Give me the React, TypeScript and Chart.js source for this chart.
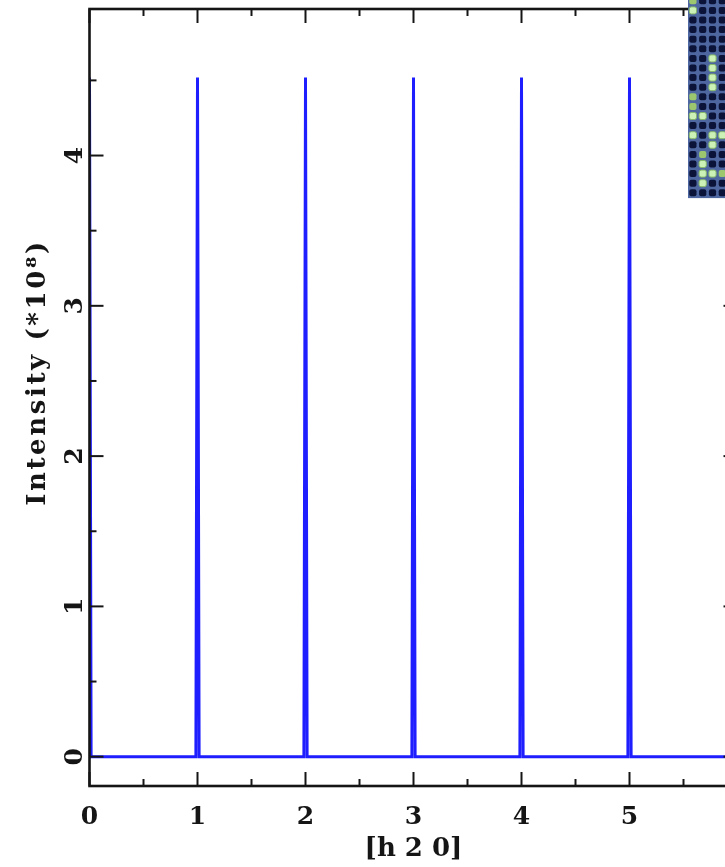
import React, { useEffect, useRef } from 'react';
import { Chart, registerables } from 'chart.js';

Chart.register(...registerables);

// Series: [h 2 0] scan, intensity in units of 1e8
const hValues = [0, 0.015, 0.985, 1, 1.015, 1.985, 2, 2.015, 2.985, 3, 3.015, 3.985, 4, 4.015, 4.985, 5, 5.015, 6];
const intensityValues = [4.52, 0, 0, 4.52, 0, 0, 4.52, 0, 0, 4.52, 0, 0, 4.52, 0, 0, 4.52, 0, 0];

// Axis ticks
const xMajorTicks = [0, 1, 2, 3, 4, 5, 6];
const xMinorTicks = [0.5, 1.5, 2.5, 3.5, 4.5, 5.5];
const yMajorTicks = [0, 1, 2, 3, 4];
const yMinorTicks = [0.5, 1.5, 2.5, 3.5, 4.5];

const xTitle = '[h 2 0]';
const yTitle = 'Intensity (*10\u2078)';

// Inset picture (pixel pattern): '.' dark, 'g' green, 'G' light green
const insetRows = [
  'g...',
  'G...',
  '....',
  '....',
  '....',
  '....',
  '..G.',
  '..G.',
  '..G.',
  '..G.',
  'g...',
  'g...',
  'GG..',
  '....',
  'G.GG',
  '..G.',
  '.g..',
  '.G..',
  '.GGg',
  '.G..',
  '....',
];

const FONT = 'DejaVu Serif';
const INK = '#151515';

const framePlugin = {
  id: 'frameTicks',
  afterDatasetsDraw(chart: any) {
    const { ctx, chartArea, scales } = chart;
    const { left, right, top, bottom } = chartArea;
    const xs = scales.x;
    const ys = scales.y;
    ctx.save();
    ctx.strokeStyle = INK;
    ctx.lineCap = 'butt';
    const seg = (x1: number, y1: number, x2: number, y2: number) => {
      ctx.beginPath();
      ctx.moveTo(x1, y1);
      ctx.lineTo(x2, y2);
      ctx.stroke();
    };
    ctx.lineWidth = 2;
    const major = 14;
    const minor = 7;
    xMajorTicks.forEach((v) => {
      const p = xs.getPixelForValue(v);
      seg(p, bottom, p, bottom - major);
      seg(p, top, p, top + major);
    });
    xMinorTicks.forEach((v) => {
      const p = xs.getPixelForValue(v);
      seg(p, bottom, p, bottom - minor);
      seg(p, top, p, top + minor);
    });
    yMajorTicks.forEach((v) => {
      const p = ys.getPixelForValue(v);
      seg(left, p, left + major, p);
      seg(right, p, right - major, p);
    });
    yMinorTicks.forEach((v) => {
      const p = ys.getPixelForValue(v);
      seg(left, p, left + minor, p);
      seg(right, p, right - minor, p);
    });
    ctx.lineWidth = 2.6;
    ctx.strokeRect(left, top, right - left, bottom - top);

    // y-axis title (letter-spaced, rotated)
    ctx.fillStyle = INK;
    ctx.font = `bold 26px "${FONT}"`;
    try {
      (ctx as any).letterSpacing = '2.6px';
    } catch (e) {}
    ctx.textAlign = 'center';
    ctx.textBaseline = 'middle';
    ctx.translate(38, (top + bottom) / 2 - 25);
    ctx.rotate(-Math.PI / 2);
    ctx.fillText(yTitle, 0, 0);
    ctx.restore();
  },
};

const insetPlugin = {
  id: 'inset',
  afterDraw(chart: any) {
    const { ctx } = chart;
    const x0 = 688;
    const y0 = -4;
    const cw = 9.8;
    const ch = 9.6;
    ctx.save();
    ctx.fillStyle = '#4f67a0';
    ctx.fillRect(x0, y0, cw * 4 + 2, ch * insetRows.length + 0.5);
    insetRows.forEach((row, r) => {
      for (let c = 0; c < row.length; c++) {
        const k = row[c];
        const cx = x0 + c * cw + 1.3;
        const cy = y0 + r * ch + 1.3;
        ctx.fillStyle = k === 'G' ? '#cdf2b8' : k === 'g' ? '#9cc76e' : '#0b1438';
        ctx.beginPath();
        ctx.roundRect(cx, cy, cw - 2.6, ch - 2.6, 2);
        ctx.fill();
        if (k === 'G') {
          ctx.strokeStyle = '#86b86a';
          ctx.lineWidth = 1;
          ctx.stroke();
        }
      }
    });
    ctx.restore();
  },
};

export default function App() {
  const ref = useRef<HTMLCanvasElement>(null);

  useEffect(() => {
    if (!ref.current) return;
    const chart = new Chart(ref.current, {
      type: 'line',
      data: {
        datasets: [
          {
            data: hValues.map((h, i) => ({ x: h, y: intensityValues[i] })),
            borderColor: 'rgb(30,30,255)',
            borderWidth: 3,
            pointRadius: 0,
            fill: false,
            tension: 0,
          },
        ],
      },
      options: {
        animation: false,
        responsive: true,
        maintainAspectRatio: false,
        layout: { padding: { top: 9, right: 22.5, left: 0, bottom: 0 } },
        plugins: { legend: { display: false }, tooltip: { enabled: false } },
        scales: {
          x: {
            type: 'linear',
            min: 0,
            max: 6,
            grid: { display: false, drawTicks: false },
            border: { display: false },
            afterBuildTicks: (s: any) => {
              s.ticks = xMajorTicks.map((v) => ({ value: v }));
            },
            afterFit: (s: any) => {
              s.height = 81;
              s.paddingLeft = 0;
              s.paddingRight = 0;
            },
            ticks: {
              font: { family: FONT, weight: 'bold', size: 25 },
              color: INK,
              padding: 16,
              maxRotation: 0,
              autoSkip: false,
              callback: (v: any) => String(v),
            },
            title: {
              display: true,
              text: xTitle,
              color: INK,
              font: { family: FONT, weight: 'bold', size: 26, lineHeight: 1.2 },
              padding: { top: 0, bottom: 2 },
            },
          },
          y: {
            type: 'linear',
            min: -0.195,
            max: 4.975,
            grid: { display: false, drawTicks: false },
            border: { display: false },
            afterBuildTicks: (s: any) => {
              s.ticks = yMajorTicks.map((v) => ({ value: v }));
            },
            afterFit: (s: any) => {
              s.width = 89.5;
              s.paddingTop = 0;
              s.paddingBottom = 0;
            },
            ticks: {
              font: { family: FONT, weight: 'bold', size: 25 },
              color: INK,
              padding: 5,
              minRotation: 90,
              maxRotation: 90,
              crossAlign: 'center',
              autoSkip: false,
              callback: (v: any) => String(v),
            },
            title: { display: false },
          },
        },
      },
      plugins: [framePlugin, insetPlugin],
    } as any);
    return () => chart.destroy();
  }, []);

  return (
    <div style={{ position: 'fixed', left: 0, top: 0, width: 725, height: 867, overflow: 'hidden', background: '#fff' }}>
      <div style={{ position: 'relative', width: 760, height: 867 }}>
        <canvas ref={ref} />
      </div>
    </div>
  );
}
